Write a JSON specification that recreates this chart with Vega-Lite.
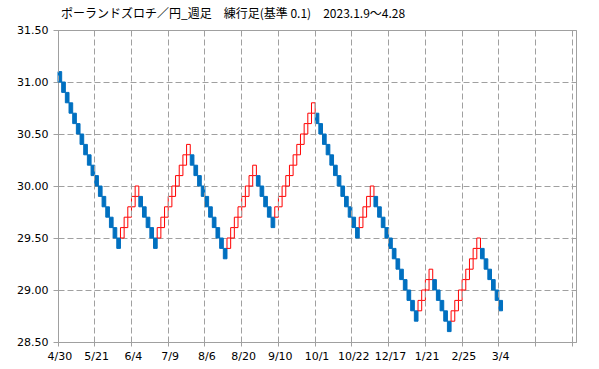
{
  "$schema": "https://vega.github.io/schema/vega-lite/v6.json",
  "width": 518,
  "height": 312,
  "autosize": {"type": "none"},
  "padding": {"left": 58, "top": 30, "right": 23, "bottom": 27},
  "background": "#FFFFFF",
  "title": {
    "text": "ポーランドズロチ／円_週足　練行足(基準 0.1)　2023.1.9〜4.28",
    "anchor": "start",
    "frame": "group",
    "dx": 3,
    "offset": 3,
    "font": "Noto Sans CJK JP",
    "fontSize": 12,
    "fontWeight": "normal",
    "color": "#000000"
  },
  "config": {
    "view": {"stroke": "#A0A0A0", "strokeWidth": 1},
    "axis": {
      "labelFont": "DejaVu Sans",
      "labelFontSize": 11,
      "labelColor": "#000000",
      "domainColor": "#A0A0A0",
      "tickColor": "#A0A0A0",
      "gridColor": "#A0A0A0",
      "gridDash": [6, 3],
      "gridWidth": 1,
      "title": null
    }
  },
  "data": {
    "values": [
      {"i": 0, "lo": 31.0, "hi": 31.1, "d": "down"},
      {"i": 1, "lo": 30.9, "hi": 31.0, "d": "down"},
      {"i": 2, "lo": 30.8, "hi": 30.9, "d": "down"},
      {"i": 3, "lo": 30.7, "hi": 30.8, "d": "down"},
      {"i": 4, "lo": 30.6, "hi": 30.7, "d": "down"},
      {"i": 5, "lo": 30.5, "hi": 30.6, "d": "down"},
      {"i": 6, "lo": 30.4, "hi": 30.5, "d": "down"},
      {"i": 7, "lo": 30.3, "hi": 30.4, "d": "down"},
      {"i": 8, "lo": 30.2, "hi": 30.3, "d": "down"},
      {"i": 9, "lo": 30.1, "hi": 30.2, "d": "down"},
      {"i": 10, "lo": 30.0, "hi": 30.1, "d": "down"},
      {"i": 11, "lo": 29.9, "hi": 30.0, "d": "down"},
      {"i": 12, "lo": 29.8, "hi": 29.9, "d": "down"},
      {"i": 13, "lo": 29.7, "hi": 29.8, "d": "down"},
      {"i": 14, "lo": 29.6, "hi": 29.7, "d": "down"},
      {"i": 15, "lo": 29.5, "hi": 29.6, "d": "down"},
      {"i": 16, "lo": 29.4, "hi": 29.5, "d": "down"},
      {"i": 17, "lo": 29.5, "hi": 29.6, "d": "up"},
      {"i": 18, "lo": 29.6, "hi": 29.7, "d": "up"},
      {"i": 19, "lo": 29.7, "hi": 29.8, "d": "up"},
      {"i": 20, "lo": 29.8, "hi": 29.9, "d": "up"},
      {"i": 21, "lo": 29.9, "hi": 30.0, "d": "up"},
      {"i": 22, "lo": 29.8, "hi": 29.9, "d": "down"},
      {"i": 23, "lo": 29.7, "hi": 29.8, "d": "down"},
      {"i": 24, "lo": 29.6, "hi": 29.7, "d": "down"},
      {"i": 25, "lo": 29.5, "hi": 29.6, "d": "down"},
      {"i": 26, "lo": 29.4, "hi": 29.5, "d": "down"},
      {"i": 27, "lo": 29.5, "hi": 29.6, "d": "up"},
      {"i": 28, "lo": 29.6, "hi": 29.7, "d": "up"},
      {"i": 29, "lo": 29.7, "hi": 29.8, "d": "up"},
      {"i": 30, "lo": 29.8, "hi": 29.9, "d": "up"},
      {"i": 31, "lo": 29.9, "hi": 30.0, "d": "up"},
      {"i": 32, "lo": 30.0, "hi": 30.1, "d": "up"},
      {"i": 33, "lo": 30.1, "hi": 30.2, "d": "up"},
      {"i": 34, "lo": 30.2, "hi": 30.3, "d": "up"},
      {"i": 35, "lo": 30.3, "hi": 30.4, "d": "up"},
      {"i": 36, "lo": 30.2, "hi": 30.3, "d": "down"},
      {"i": 37, "lo": 30.1, "hi": 30.2, "d": "down"},
      {"i": 38, "lo": 30.0, "hi": 30.1, "d": "down"},
      {"i": 39, "lo": 29.9, "hi": 30.0, "d": "down"},
      {"i": 40, "lo": 29.8, "hi": 29.9, "d": "down"},
      {"i": 41, "lo": 29.7, "hi": 29.8, "d": "down"},
      {"i": 42, "lo": 29.6, "hi": 29.7, "d": "down"},
      {"i": 43, "lo": 29.5, "hi": 29.6, "d": "down"},
      {"i": 44, "lo": 29.4, "hi": 29.5, "d": "down"},
      {"i": 45, "lo": 29.3, "hi": 29.4, "d": "down"},
      {"i": 46, "lo": 29.4, "hi": 29.5, "d": "up"},
      {"i": 47, "lo": 29.5, "hi": 29.6, "d": "up"},
      {"i": 48, "lo": 29.6, "hi": 29.7, "d": "up"},
      {"i": 49, "lo": 29.7, "hi": 29.8, "d": "up"},
      {"i": 50, "lo": 29.8, "hi": 29.9, "d": "up"},
      {"i": 51, "lo": 29.9, "hi": 30.0, "d": "up"},
      {"i": 52, "lo": 30.0, "hi": 30.1, "d": "up"},
      {"i": 53, "lo": 30.1, "hi": 30.2, "d": "up"},
      {"i": 54, "lo": 30.0, "hi": 30.1, "d": "down"},
      {"i": 55, "lo": 29.9, "hi": 30.0, "d": "down"},
      {"i": 56, "lo": 29.8, "hi": 29.9, "d": "down"},
      {"i": 57, "lo": 29.7, "hi": 29.8, "d": "down"},
      {"i": 58, "lo": 29.6, "hi": 29.7, "d": "down"},
      {"i": 59, "lo": 29.7, "hi": 29.8, "d": "up"},
      {"i": 60, "lo": 29.8, "hi": 29.9, "d": "up"},
      {"i": 61, "lo": 29.9, "hi": 30.0, "d": "up"},
      {"i": 62, "lo": 30.0, "hi": 30.1, "d": "up"},
      {"i": 63, "lo": 30.1, "hi": 30.2, "d": "up"},
      {"i": 64, "lo": 30.2, "hi": 30.3, "d": "up"},
      {"i": 65, "lo": 30.3, "hi": 30.4, "d": "up"},
      {"i": 66, "lo": 30.4, "hi": 30.5, "d": "up"},
      {"i": 67, "lo": 30.5, "hi": 30.6, "d": "up"},
      {"i": 68, "lo": 30.6, "hi": 30.7, "d": "up"},
      {"i": 69, "lo": 30.7, "hi": 30.8, "d": "up"},
      {"i": 70, "lo": 30.6, "hi": 30.7, "d": "down"},
      {"i": 71, "lo": 30.5, "hi": 30.6, "d": "down"},
      {"i": 72, "lo": 30.4, "hi": 30.5, "d": "down"},
      {"i": 73, "lo": 30.3, "hi": 30.4, "d": "down"},
      {"i": 74, "lo": 30.2, "hi": 30.3, "d": "down"},
      {"i": 75, "lo": 30.1, "hi": 30.2, "d": "down"},
      {"i": 76, "lo": 30.0, "hi": 30.1, "d": "down"},
      {"i": 77, "lo": 29.9, "hi": 30.0, "d": "down"},
      {"i": 78, "lo": 29.8, "hi": 29.9, "d": "down"},
      {"i": 79, "lo": 29.7, "hi": 29.8, "d": "down"},
      {"i": 80, "lo": 29.6, "hi": 29.7, "d": "down"},
      {"i": 81, "lo": 29.5, "hi": 29.6, "d": "down"},
      {"i": 82, "lo": 29.6, "hi": 29.7, "d": "up"},
      {"i": 83, "lo": 29.7, "hi": 29.8, "d": "up"},
      {"i": 84, "lo": 29.8, "hi": 29.9, "d": "up"},
      {"i": 85, "lo": 29.9, "hi": 30.0, "d": "up"},
      {"i": 86, "lo": 29.8, "hi": 29.9, "d": "down"},
      {"i": 87, "lo": 29.7, "hi": 29.8, "d": "down"},
      {"i": 88, "lo": 29.6, "hi": 29.7, "d": "down"},
      {"i": 89, "lo": 29.5, "hi": 29.6, "d": "down"},
      {"i": 90, "lo": 29.4, "hi": 29.5, "d": "down"},
      {"i": 91, "lo": 29.3, "hi": 29.4, "d": "down"},
      {"i": 92, "lo": 29.2, "hi": 29.3, "d": "down"},
      {"i": 93, "lo": 29.1, "hi": 29.2, "d": "down"},
      {"i": 94, "lo": 29.0, "hi": 29.1, "d": "down"},
      {"i": 95, "lo": 28.9, "hi": 29.0, "d": "down"},
      {"i": 96, "lo": 28.8, "hi": 28.9, "d": "down"},
      {"i": 97, "lo": 28.7, "hi": 28.8, "d": "down"},
      {"i": 98, "lo": 28.8, "hi": 28.9, "d": "up"},
      {"i": 99, "lo": 28.9, "hi": 29.0, "d": "up"},
      {"i": 100, "lo": 29.0, "hi": 29.1, "d": "up"},
      {"i": 101, "lo": 29.1, "hi": 29.2, "d": "up"},
      {"i": 102, "lo": 29.0, "hi": 29.1, "d": "down"},
      {"i": 103, "lo": 28.9, "hi": 29.0, "d": "down"},
      {"i": 104, "lo": 28.8, "hi": 28.9, "d": "down"},
      {"i": 105, "lo": 28.7, "hi": 28.8, "d": "down"},
      {"i": 106, "lo": 28.6, "hi": 28.7, "d": "down"},
      {"i": 107, "lo": 28.7, "hi": 28.8, "d": "up"},
      {"i": 108, "lo": 28.8, "hi": 28.9, "d": "up"},
      {"i": 109, "lo": 28.9, "hi": 29.0, "d": "up"},
      {"i": 110, "lo": 29.0, "hi": 29.1, "d": "up"},
      {"i": 111, "lo": 29.1, "hi": 29.2, "d": "up"},
      {"i": 112, "lo": 29.2, "hi": 29.3, "d": "up"},
      {"i": 113, "lo": 29.3, "hi": 29.4, "d": "up"},
      {"i": 114, "lo": 29.4, "hi": 29.5, "d": "up"},
      {"i": 115, "lo": 29.3, "hi": 29.4, "d": "down"},
      {"i": 116, "lo": 29.2, "hi": 29.3, "d": "down"},
      {"i": 117, "lo": 29.1, "hi": 29.2, "d": "down"},
      {"i": 118, "lo": 29.0, "hi": 29.1, "d": "down"},
      {"i": 119, "lo": 28.9, "hi": 29.0, "d": "down"},
      {"i": 120, "lo": 28.8, "hi": 28.9, "d": "down"}
    ]
  },
  "mark": {"type": "rect", "strokeWidth": 1},
  "encoding": {
    "x": {
      "field": "i",
      "type": "ordinal",
      "scale": {
        "domain": [0,1,2,3,4,5,6,7,8,9,10,11,12,13,14,15,16,17,18,19,20,21,22,23,24,25,26,27,28,29,30,31,32,33,34,35,36,37,38,39,40,41,42,43,44,45,46,47,48,49,50,51,52,53,54,55,56,57,58,59,60,61,62,63,64,65,66,67,68,69,70,71,72,73,74,75,76,77,78,79,80,81,82,83,84,85,86,87,88,89,90,91,92,93,94,95,96,97,98,99,100,101,102,103,104,105,106,107,108,109,110,111,112,113,114,115,116,117,118,119,120,121,122,123,124,125,126,127,128,129,130,131,132,133,134,135,136,137,138,139,140],
        "paddingInner": 0,
        "paddingOuter": 0
      },
      "axis": {
        "values": [0,10,20,30,40,50,60,70,80,90,100,110,120,130,140],
        "bandPosition": 0,
        "labelAngle": 0,
        "labelAlign": "center",
        "tickSize": 4,
        "labelPadding": 4,
        "grid": true,
        "labelExpr": "['4/30','5/21','6/4','7/9','8/6','8/20','9/10','10/1','10/22','12/17','1/21','2/25','3/4','',''][round(datum.value/10)]"
      }
    },
    "y": {
      "field": "lo",
      "type": "quantitative",
      "scale": {"domain": [28.5, 31.5], "zero": false, "nice": false},
      "axis": {
        "values": [28.5, 29.0, 29.5, 30.0, 30.5, 31.0, 31.5],
        "format": ".2f",
        "tickSize": 5,
        "labelPadding": 5,
        "grid": true
      }
    },
    "y2": {"field": "hi"},
    "fill": {
      "field": "d",
      "type": "nominal",
      "scale": {"domain": ["down", "up"], "range": ["#0070C0", "#FFFFFF"]},
      "legend": null
    },
    "stroke": {
      "field": "d",
      "type": "nominal",
      "scale": {"domain": ["down", "up"], "range": ["#0070C0", "#FF0000"]},
      "legend": null
    }
  }
}
